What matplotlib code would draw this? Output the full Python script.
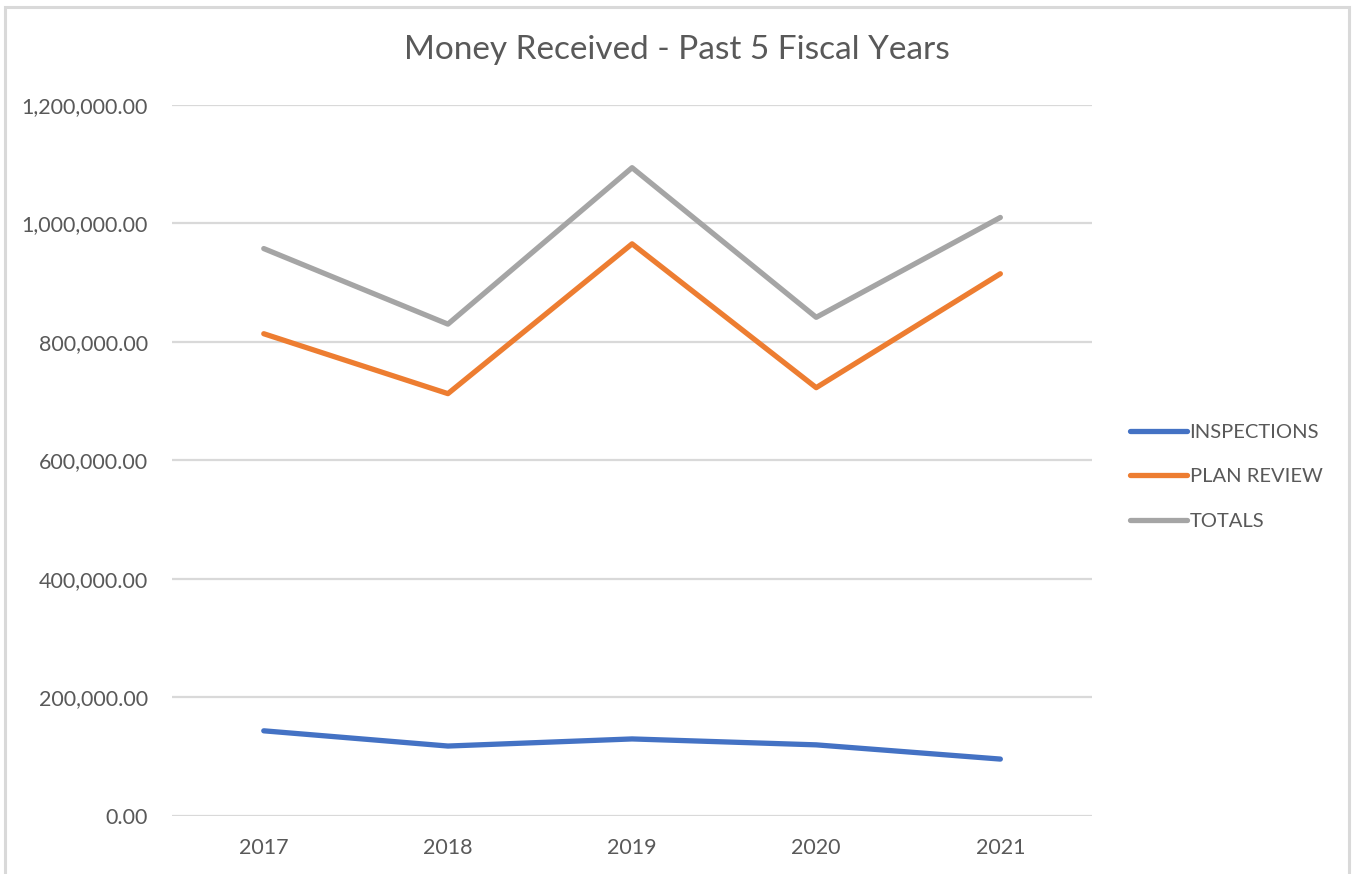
import matplotlib.pyplot as plt
from matplotlib.patches import Rectangle
from matplotlib.ticker import FuncFormatter

years = ["2017", "2018", "2019", "2020", "2021"]
inspections = [143700, 118000, 130000, 120000, 96000]
plan_review = [813800, 712700, 965500, 722800, 915000]
totals = [957500, 830000, 1094000, 841500, 1010000]

series_names = ["INSPECTIONS", "PLAN REVIEW", "TOTALS"]
series_colors = ["#4472C4", "#ED7D31", "#A5A5A5"]

plt.rcParams['font.family'] = ['Lato', 'DejaVu Sans']

fig = plt.figure(figsize=(13.52, 8.74), dpi=100)
ax = fig.add_axes([0.127, 0.0664, 0.681, 0.8136])

x = range(len(years))
for vals, name, col in zip([inspections, plan_review, totals], series_names, series_colors):
    ax.plot(x, vals, color=col, lw=3.8, solid_capstyle='round',
            solid_joinstyle='round', label=name, zorder=3)

ax.set_xlim(-0.5, len(years) - 0.5)
ax.set_ylim(0, 1200000)
ax.set_yticks(range(0, 1200001, 200000))
ax.yaxis.set_major_formatter(FuncFormatter(lambda v, p: f"{v:,.2f}"))
ax.set_xticks(list(x))
ax.set_xticklabels(years)

ax.grid(axis='y', color='#D9D9D9', lw=1.6, zorder=0)
for s in ax.spines.values():
    s.set_visible(False)
ax.tick_params(length=0, labelsize=15.5, colors='#595959')
ax.tick_params(axis='y', pad=17)
ax.tick_params(axis='x', pad=16)

fig.text(0.501, 0.943, "Money Received - Past 5 Fiscal Years", ha='center', va='center',
         fontsize=24, color='#595959')

leg = ax.legend(loc='center left', bbox_to_anchor=(1.041, 0.477), frameon=False,
                fontsize=14.5, handlelength=2.8, handletextpad=0.15, labelspacing=1.35,
                borderpad=0, borderaxespad=0)
for t in leg.get_texts():
    t.set_color('#595959')

# outer chart border
fig.patches.append(Rectangle((0.0037, -0.01), 0.994, 1.002, transform=fig.transFigure,
                             fill=False, edgecolor='#D9D9D9', lw=2.2))

fig.savefig("out.png", dpi=100)
